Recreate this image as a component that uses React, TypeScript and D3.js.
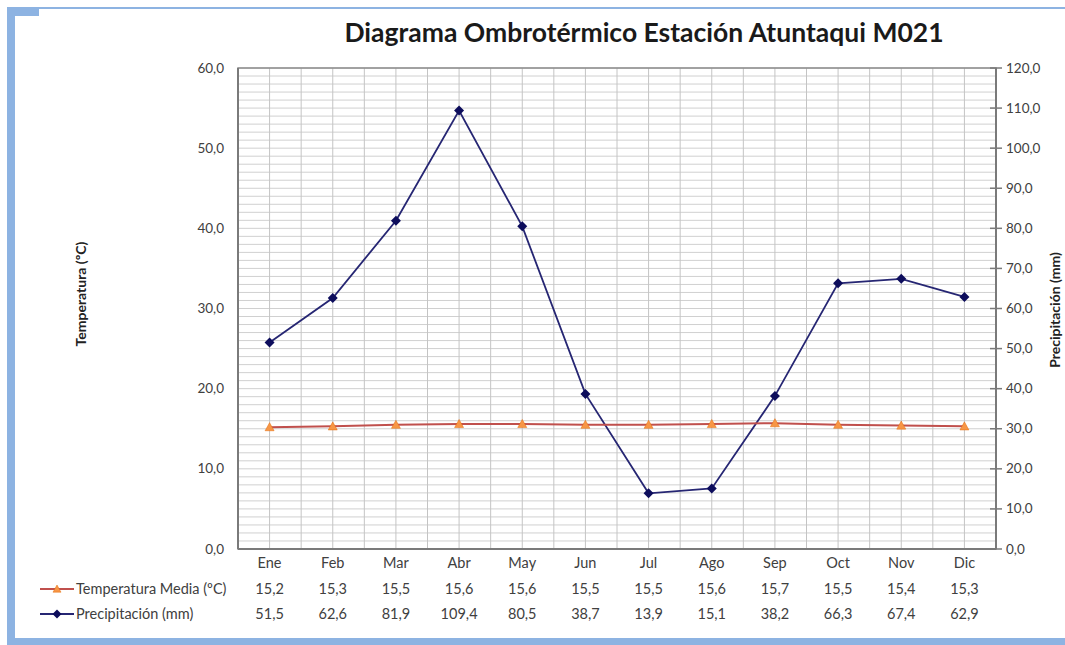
import React from "react";
import * as d3 from "d3";

const months = ["Ene", "Feb", "Mar", "Abr", "May", "Jun", "Jul", "Ago", "Sep", "Oct", "Nov", "Dic"];
const temperatura = [15.2, 15.3, 15.5, 15.6, 15.6, 15.5, 15.5, 15.6, 15.7, 15.5, 15.4, 15.3];
const precipitacion = [51.5, 62.6, 81.9, 109.4, 80.5, 38.7, 13.9, 15.1, 38.2, 66.3, 67.4, 62.9];
const leftTicks = [0, 10, 20, 30, 40, 50, 60];
const rightTicks = [0, 10, 20, 30, 40, 50, 60, 70, 80, 90, 100, 110, 120];

const W = 1065, H = 645;
const L = 238, R = 996, T = 68, B = 549;
const FONT = "Lato, 'Open Sans', sans-serif";
const fmt = (v: number) => v.toFixed(1).replace(".", ",");

export default function App() {
  const x = d3.scaleBand<string>().domain(months).range([L, R]).padding(0);
  const cx = (m: string) => (x(m) as number) + x.bandwidth() / 2;
  const yL = d3.scaleLinear().domain([0, 60]).range([B, T]);
  const yR = d3.scaleLinear().domain([0, 120]).range([B, T]);

  const tempLine = d3.line<number>().x((_, i) => cx(months[i])).y((d) => yL(d))(temperatura) as string;
  const precLine = d3.line<number>().x((_, i) => cx(months[i])).y((d) => yR(d))(precipitacion) as string;

  const minor = d3.range(0, 61, 1);
  const vLines: number[] = [];
  months.forEach((m) => {
    vLines.push(x(m) as number);
    vLines.push(cx(m));
  });
  vLines.push(R);

  const tri = (px: number, py: number, s = 4.5) =>
    `M${px},${py - s} L${px + s},${py + s * 0.8} L${px - s},${py + s * 0.8} Z`;
  const dia = (px: number, py: number, s = 5) =>
    `M${px},${py - s} L${px + s},${py} L${px},${py + s} L${px - s},${py} Z`;

  const textCol = "#404040";

  return (
    <div style={{ position: "absolute", left: 0, top: 0 }}>
      <svg width={W} height={H} style={{ display: "block", background: "#fff" }}>
        {/* frame */}
        <rect x={7} y={7} width={W - 7} height={2} fill="#8db3e2" />
        <rect x={7} y={8} width={32} height={8} fill="#8db3e2" />
        <rect x={7} y={8} width={8} height={H - 8} fill="#8db3e2" />
        <rect x={7} y={638} width={W - 7} height={7} fill="#8db3e2" />

        {/* title */}
        <text x={644} y={42} textAnchor="middle" fontFamily={FONT} fontWeight={700} fontSize={26.5} fill="#1a1a1a">
          Diagrama Ombrotérmico Estación Atuntaqui M021
        </text>

        {/* gridlines */}
        {minor.map((v) => (
          <line key={"h" + v} x1={L} x2={R} y1={yL(v)} y2={yL(v)} stroke="#d0d0d0" strokeWidth={1} />
        ))}
        {vLines.map((v, i) => (
          <line key={"v" + i} x1={v} x2={v} y1={T} y2={B} stroke="#c4c4c4" strokeWidth={1} />
        ))}

        {/* plot frame */}
        <rect x={L} y={T} width={R - L} height={B - T} fill="none" stroke="#8a8a8a" strokeWidth={1.5} />
        <line x1={L} x2={L} y1={T} y2={B} stroke="#7a7a7a" strokeWidth={2} />
        <line x1={L} x2={R} y1={B} y2={B} stroke="#7a7a7a" strokeWidth={2} />
        <line x1={R} x2={R} y1={T} y2={B} stroke="#7a7a7a" strokeWidth={2} />

        {/* left axis labels */}
        {leftTicks.map((v) => (
          <text key={"lt" + v} x={224} y={yL(v) + 4.5} textAnchor="end" fontFamily={FONT} fontSize={13.5} fill={textCol}>
            {fmt(v)}
          </text>
        ))}
        {/* right axis ticks and labels */}
        {rightTicks.map((v) => (
          <g key={"rt" + v}>
            <line x1={R - 6} x2={R + 6} y1={yR(v)} y2={yR(v)} stroke="#7a7a7a" strokeWidth={1.5} />
            <text x={1006} y={yR(v) + 4.5} textAnchor="start" fontFamily={FONT} fontSize={13.5} fill={textCol}>
              {fmt(v)}
            </text>
          </g>
        ))}

        {/* axis titles */}
        <text transform={`translate(86,294) rotate(-90)`} textAnchor="middle" fontFamily={FONT} fontWeight={700} fontSize={14} fill="#222">
          Temperatura (ºC)
        </text>
        <text transform={`translate(1060,310) rotate(-90)`} textAnchor="middle" fontFamily={FONT} fontWeight={700} fontSize={14} fill="#222">
          Precipitación (mm)
        </text>

        {/* series */}
        <path d={precLine} fill="none" stroke="#262673" strokeWidth={1.8} />
        {precipitacion.map((v, i) => (
          <path key={"pd" + i} d={dia(cx(months[i]), yR(v))} fill="#0d0d5c" />
        ))}
        <path d={tempLine} fill="none" stroke="#c0504d" strokeWidth={2} />
        {temperatura.map((v, i) => (
          <path key={"td" + i} d={tri(cx(months[i]), yL(v))} fill="#f79646" stroke="#e46c0a" strokeWidth={0.5} />
        ))}

        {/* data table */}
        {months.map((m, i) => (
          <g key={"tb" + m}>
            <text x={cx(m)} y={568} textAnchor="middle" fontFamily={FONT} fontSize={14.5} fill={textCol}>{m}</text>
            <text x={cx(m)} y={594} textAnchor="middle" fontFamily={FONT} fontSize={14.5} fill={textCol}>{fmt(temperatura[i])}</text>
            <text x={cx(m)} y={619} textAnchor="middle" fontFamily={FONT} fontSize={14.5} fill={textCol}>{fmt(precipitacion[i])}</text>
          </g>
        ))}

        {/* legend keys */}
        <line x1={40} x2={74} y1={589} y2={589} stroke="#c0504d" strokeWidth={2} />
        <path d={tri(57, 589, 4)} fill="#f79646" stroke="#e46c0a" strokeWidth={0.5} />
        <text x={76} y={594} fontFamily={FONT} fontSize={14.5} fill={textCol}>Temperatura Media (ºC)</text>
        <line x1={40} x2={74} y1={614} y2={614} stroke="#262673" strokeWidth={1.8} />
        <path d={dia(57, 614, 4.5)} fill="#0d0d5c" />
        <text x={76} y={619} fontFamily={FONT} fontSize={14.5} fill={textCol}>Precipitación (mm)</text>
      </svg>
    </div>
  );
}
